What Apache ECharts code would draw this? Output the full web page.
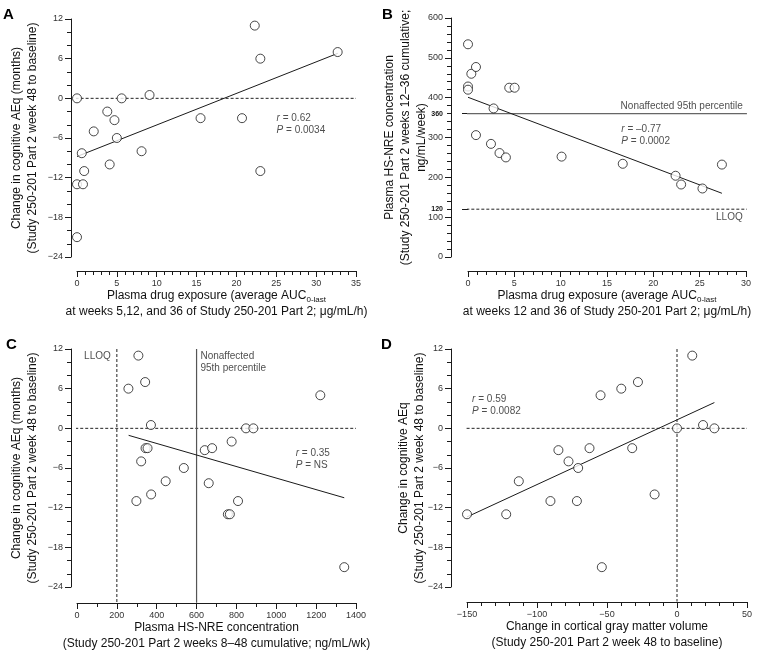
<!DOCTYPE html>
<html><head><meta charset="utf-8">
<script src="https://cdn.jsdelivr.net/npm/echarts@6/dist/echarts.min.js"></script>
<style>html,body{margin:0;padding:0;background:#fff}#c{width:760px;height:657px}</style>
</head><body><div id="c"></div>
<script>
// ---------------- DATA ----------------
// Panel A: plasma drug exposure vs change in cognitive AEq
const aX = [0, 22.3, 32.7, 23.0, 5.6, 9.1, 3.8, 4.7, 2.1, 5.0, 15.5, 20.7, 0.6, 8.1, 4.1, 0.9, 23.0, 0, 0.75, 0];
const aY = [0, 11, 7, 6, 0, 0.5, -2, -3.3, -5, -6, -3, -3, -8.3, -8, -10, -11, -11, -13, -13, -21];
const aFitX = [0, 32.7];
const aFitY = [-8.8, 6.8];
// Panel B: plasma drug exposure vs plasma HS-NRE concentration
const bX = [0, 0, 0, 0.36, 0.86, 0.86, 2.76, 2.48, 3.4, 4.09, 4.45, 5.03, 10.1, 16.7, 22.4, 23.0, 25.3, 27.4];
const bY = [534, 428, 420, 460, 477, 306, 373, 284, 261, 250, 425, 425, 252, 234, 204, 182, 172, 232];
const bFitX = [0, 27.4];
const bFitY = [401, 160];
// Panel C: plasma HS-NRE concentration vs change in cognitive AEq
const cX = [308, 342, 258, 1221, 371, 848, 885, 776, 344, 354, 641, 678, 322, 536, 445, 661, 372, 298, 808, 757, 767, 1341];
const cY = [11, 7, 6, 5, 0.5, 0, 0, -2, -3, -3, -3.3, -3, -5, -6, -8, -8.3, -10, -11, -11, -13, -13, -21];
const cFitX = [259, 1341];
const cFitY = [-1.06, -10.5];
// Panel D: change in cortical gray matter volume vs change in cognitive AEq
const dX = [-150, -122, -113, -90.4, -84.7, -77.5, -71.5, -70.6, -62.5, -54.6, -53.7, -39.8, -32, -27.9, -16, 0, 10.9, 18.6, 26.7];
const dY = [-13, -13, -8, -11, -3.3, -5, -11, -6, -3, 5, -21, 6, -3, 7, -10, 0, 11, 0.5, 0];
const dFitX = [-150, 26.7];
const dFitY = [-13.4, 3.9];

// tick values
const aeqTicks = [-24, -18, -12, -6, 0, 6, 12];
const aXTicks = [0, 5, 10, 15, 20, 25, 30, 35];
const bXTicks = [0, 5, 10, 15, 20, 25, 30];
const bYTicks = [0, 100, 200, 300, 400, 500, 600];
const bYExtraTicks = [120, 360];
const cXTicks = [0, 200, 400, 600, 800, 1000, 1200, 1400];
const dXTicks = [-150, -100, -50, 0, 50];

// reference thresholds
const bNonaffected = 360, bLLOQ = 120;
const cLLOQ = 200, cNonaffected = 600;

// texts
const aYName = 'Change in cognitive AEq (months)\n(Study 250-201 Part 2 week 48 to baseline)';
const dYName = 'Change in cognitive AEq\n(Study 250-201 Part 2 week 48 to baseline)';
const bYName = 'Plasma HS-NRE concentration\n(Study 250-201 Part 2 weeks 12\u201336 cumulative;\nng/mL/week)';
const aXName = 'Plasma drug exposure (average AUC{sub|0-last}\nat weeks 5,12, and 36 of Study 250-201 Part 2; \u03bcg/mL/h)';
const bXName = 'Plasma drug exposure (average AUC{sub|0-last}\nat weeks 12 and 36 of Study 250-201 Part 2; \u03bcg/mL/h)';
const cXName = 'Plasma HS-NRE concentration\n(Study 250-201 Part 2 weeks 8\u201348 cumulative; ng/mL/wk)';
const dXName = 'Change in cortical gray matter volume\n(Study 250-201 Part 2 week 48 to baseline)';

// ---------------- CHART ----------------
const FONT = '"Liberation Sans", Arial, Helvetica, sans-serif';
const INK = '#1a1a1a';
const zip = (xs, ys) => xs.map((x, i) => [x, ys[i]]);
const fmt = v => (v < 0 ? '\u2212' + Math.abs(v) : String(v));
const richSub = { sub: { fontSize: 8, fontFamily: FONT, color: '#111', padding: [7, 0, 0, 0] } };

function mkAxis(kind, grid, ticks, minorSplit, name, offset, nameGap, extra) {
  return Object.assign({
    type: 'value', gridIndex: grid, position: kind === 'x' ? 'bottom' : 'left',
    min: ticks[0], max: ticks[ticks.length - 1], interval: ticks[1] - ticks[0],
    offset: offset,
    axisLine: { show: true, onZero: false, lineStyle: { color: INK, width: 1 } },
    axisTick: { show: true, inside: false, length: 6, lineStyle: { color: INK, width: 1 } },
    minorTick: { show: true, splitNumber: minorSplit, length: 4, lineStyle: { color: INK, width: 1 } },
    axisLabel: { fontSize: 9, color: '#333', margin: 8, formatter: fmt, fontFamily: FONT },
    splitLine: { show: false },
    name: name, nameLocation: 'middle', nameGap: nameGap,
    nameRotate: kind === 'y' ? 90 : 0,
    nameMoveOverlap: false,
    nameTextStyle: { fontSize: 12, color: '#111', lineHeight: 16, fontFamily: FONT, align: 'center', rich: richSub }
  }, extra || {});
}

const scatter = (i, data) => ({
  type: 'scatter', xAxisIndex: i, yAxisIndex: i, data: data, symbol: 'circle', symbolSize: 9, z: 5,
  itemStyle: { color: '#fff', borderColor: INK, borderWidth: 1 }, silent: true
});
const line = (i, data, style, clip) => ({
  type: 'line', xAxisIndex: i, yAxisIndex: i, data: data, symbol: 'none', clip: clip === undefined ? true : clip,
  z: 3, silent: true, lineStyle: Object.assign({ color: INK, width: 1 }, style)
});
const dashed = { type: [3, 2], width: 1, color: '#222' };
const note = (i, x, y, text, align, vAlign, lh) => ({
  type: 'scatter', xAxisIndex: i, yAxisIndex: i, data: [[x, y]], symbolSize: 1, z: 6, silent: true,
  itemStyle: { color: 'rgba(0,0,0,0)' },
  label: {
    show: true, position: [0, 0], align: align, verticalAlign: vAlign, formatter: text,
    fontSize: 10, lineHeight: lh || 12, color: '#222', fontFamily: FONT,
    rich: { i: { fontStyle: 'italic', fontSize: 10, fontFamily: FONT, color: '#222' } }
  }
});

const grids = [
  { left: 77, top: 19, width: 279, height: 238 },
  { left: 468, top: 18, width: 278, height: 239 },
  { left: 77, top: 349, width: 279, height: 238 },
  { left: 467, top: 349, width: 280, height: 238 }
].map(g => Object.assign({ outerBoundsMode: 'none', containLabel: false }, g));

const option = {
  animation: false,
  backgroundColor: '#fff',
  textStyle: { fontFamily: FONT },
  grid: grids,
  xAxis: [
    mkAxis('x', 0, aXTicks, 5, aXName, 14, 17),
    mkAxis('x', 1, bXTicks, 5, bXName, 14, 17),
    mkAxis('x', 2, cXTicks, 2, cXName, 16, 17),
    mkAxis('x', 3, dXTicks, 5, dXName, 15, 17)
  ],
  yAxis: [
    mkAxis('y', 0, aeqTicks, 3, aYName, 6, 30),
    mkAxis('y', 1, bYTicks, 5, bYName, 17, 21),
    mkAxis('y', 2, aeqTicks, 3, aYName, 6, 30),
    mkAxis('y', 3, aeqTicks, 3, dYName, 16, 23),
    {
      type: 'value', gridIndex: 1, position: 'left', min: bYTicks[0], max: bYTicks[bYTicks.length - 1], offset: 17,
      axisLine: { show: false }, splitLine: { show: false },
      axisTick: { show: true, customValues: bYExtraTicks, length: 6, lineStyle: { color: INK } },
      axisLabel: { show: true, customValues: bYExtraTicks, fontSize: 7, fontWeight: 'bold', color: '#111', margin: 8, fontFamily: FONT }
    }
  ],
  series: [
    // Panel A
    line(0, [[-0.8, 0], [35, 0]], dashed, false),
    line(0, zip(aFitX, aFitY), {}),
    scatter(0, zip(aX, aY)),
    note(0, 25.1, -2.2, '{i|r} = 0.62\n{i|P} = 0.0034', 'left', 'top'),
    // Panel B
    line(1, [[-1.8, bNonaffected], [30.1, bNonaffected]], { color: '#666', width: 1.2 }, false),
    line(1, [[-1.8, bLLOQ], [30.1, bLLOQ]], dashed, false),
    line(1, zip(bFitX, bFitY), {}),
    scatter(1, zip(bX, bY)),
    note(1, 29.7, 377, 'Nonaffected 95th percentile', 'right', 'middle'),
    note(1, 29.7, 99, 'LLOQ', 'right', 'middle'),
    note(1, 16.6, 334, '{i|r} = \u20130.77\n{i|P} = 0.0002', 'left', 'top'),
    // Panel C
    line(2, [[-34, 0], [1400, 0]], dashed, false),
    line(2, [[cLLOQ, 12], [cLLOQ, -26.4]], dashed, false),
    line(2, [[cNonaffected, 12], [cNonaffected, -26.4]], { color: '#555', width: 1.2 }, false),
    line(2, zip(cFitX, cFitY), {}),
    scatter(2, zip(cX, cY)),
    note(2, 172, 10.9, 'LLOQ', 'right', 'middle'),
    note(2, 622, 11.8, 'Nonaffected\n95th percentile', 'left', 'top'),
    note(2, 1100, -3.0, '{i|r} = 0.35\n{i|P} = NS', 'left', 'top'),
    // Panel D
    line(3, [[-161, 0], [50, 0]], dashed, false),
    line(3, [[0, 12], [0, -26.2]], dashed, false),
    line(3, zip(dFitX, dFitY), {}),
    scatter(3, zip(dX, dY)),
    note(3, -146, 5.2, '{i|r} = 0.59\n{i|P} = 0.0082', 'left', 'top')
  ],
  graphic: [
    { type: 'text', left: 3, top: 7, style: { text: 'A', font: 'bold 15px ' + FONT, fill: '#000' } },
    { type: 'text', left: 382, top: 7, style: { text: 'B', font: 'bold 15px ' + FONT, fill: '#000' } },
    { type: 'text', left: 6, top: 337, style: { text: 'C', font: 'bold 15px ' + FONT, fill: '#000' } },
    { type: 'text', left: 381, top: 337, style: { text: 'D', font: 'bold 15px ' + FONT, fill: '#000' } }
  ]
};

const chart = echarts.init(document.getElementById('c'), null, { renderer: 'canvas' });
chart.setOption(option);
</script>
</body></html>
